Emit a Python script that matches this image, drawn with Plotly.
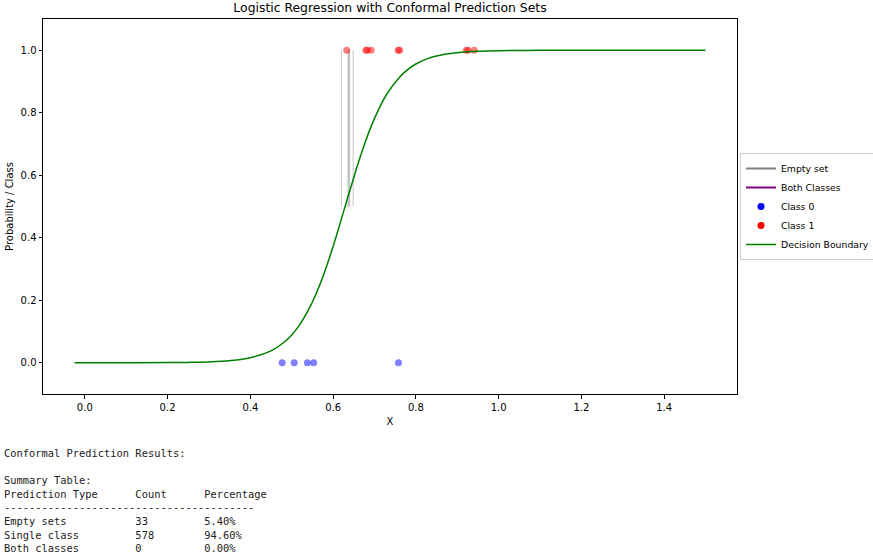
import plotly.graph_objects as go

# ---- data ----
curve_x = [-0.025, 0.1, 0.2, 0.25, 0.30, 0.35, 0.40, 0.45, 0.48, 0.50, 0.52, 0.545, 0.56,
           0.575, 0.59, 0.60, 0.61, 0.62, 0.629, 0.64, 0.65, 0.66, 0.672, 0.69, 0.71,
           0.73, 0.76, 0.78, 0.80, 0.83, 0.87, 0.91, 0.95, 1.0, 1.1, 1.2, 1.35, 1.5]
curve_p = [0.0, 0.0001, 0.0004, 0.0011, 0.0027, 0.0066, 0.016, 0.038, 0.064, 0.089, 0.123,
           0.181, 0.224, 0.274, 0.331, 0.372, 0.415, 0.46, 0.5, 0.549, 0.593, 0.636, 0.684,
           0.75, 0.811, 0.86, 0.913, 0.938, 0.956, 0.974, 0.987, 0.994, 0.997, 0.9987,
           0.9998, 1.0, 1.0, 1.0]

class0_x = [0.477, 0.506, 0.538, 0.553, 0.758]
class0_y = [0, 0, 0, 0, 0]
class1_x = [0.633, 0.679, 0.683, 0.692, 0.757, 0.761, 0.922, 0.926, 0.941]
class1_y = [1, 1, 1, 1, 1, 1, 1, 1, 1]

empty_x = [0.620, 0.636, 0.638, 0.640, 0.6485]
empty_y0 = 0.5
empty_y1 = 1.0

x_ticks = [0.0, 0.2, 0.4, 0.6, 0.8, 1.0, 1.2, 1.4]
y_ticks = [0.0, 0.2, 0.4, 0.6, 0.8, 1.0]

report_lines = [
    "Conformal Prediction Results:",
    "",
    "Summary Table:",
    "Prediction Type      Count      Percentage",
    "----------------------------------------",
    "Empty sets           33         5.40%",
    "Single class         578        94.60%",
    "Both classes         0          0.00%",
]

# ---- figure ----
W, H = 873, 559
L, R, T, B = 43, 737, 19, 394

fig = go.Figure()

vx, vy = [], []
for x in empty_x:
    vx += [x, x, None]
    vy += [empty_y0, empty_y1, None]
fig.add_trace(go.Scatter(x=vx, y=vy, mode="lines",
                         line=dict(color="rgba(128,128,128,0.45)", width=1.0),
                         showlegend=False, hoverinfo="skip"))

fig.add_trace(go.Scatter(x=class0_x, y=class0_y, mode="markers",
                         marker=dict(color="rgba(0,0,255,0.5)", size=7, line=dict(width=0)),
                         showlegend=False))
fig.add_trace(go.Scatter(x=class1_x, y=class1_y, mode="markers",
                         marker=dict(color="rgba(255,0,0,0.5)", size=7, line=dict(width=0)),
                         showlegend=False))
fig.add_trace(go.Scatter(x=curve_x, y=curve_p, mode="lines",
                         line=dict(color="green", width=1.5, shape="spline", smoothing=1.0),
                         showlegend=False))

# legend entries
fig.add_trace(go.Scatter(x=[None], y=[None], mode="lines", name="Empty set",
                         line=dict(color="gray", width=2)))
fig.add_trace(go.Scatter(x=[None], y=[None], mode="lines", name="Both Classes",
                         line=dict(color="purple", width=2)))
fig.add_trace(go.Scatter(x=[None], y=[None], mode="markers", name="Class 0",
                         marker=dict(color="blue", size=7)))
fig.add_trace(go.Scatter(x=[None], y=[None], mode="markers", name="Class 1",
                         marker=dict(color="red", size=7)))
fig.add_trace(go.Scatter(x=[None], y=[None], mode="lines", name="Decision Boundary",
                         line=dict(color="green", width=1.5)))

font = "DejaVu Sans, sans-serif"
axis_common = dict(showline=True, linecolor="black", linewidth=1, mirror=True,
                   ticks="outside", ticklen=3.5, tickcolor="black", showgrid=False,
                   zeroline=False, tickfont=dict(size=10, color="black", family=font),
                   tickformat=".1f", automargin=False)

fig.update_layout(
    width=W, height=H,
    margin=dict(l=L, r=W - R, t=T, b=H - B, pad=0, autoexpand=False),
    paper_bgcolor="white", plot_bgcolor="white",
    font=dict(family=font, color="black"),
    title=dict(text="Logistic Regression with Conformal Prediction Sets",
               x=(L + R) / 2 / W, xanchor="center", xref="container",
               y=1 - 8 / H, yanchor="middle", yref="container",
               font=dict(size=12.4, color="black", family=font)),
    xaxis=dict(range=[-0.101, 1.576], tickvals=x_ticks,
               title=dict(text="X", font=dict(size=10, family=font), standoff=6),
               **axis_common),
    yaxis=dict(range=[-0.1, 1.1], tickvals=y_ticks,
               title=dict(text="Probability / Class", font=dict(size=10, family=font), standoff=5),
               **axis_common),
    legend=dict(x=(740 - L) / (R - L), xanchor="left", y=(B - 206.5) / (B - T), yanchor="middle",
                bgcolor="white", bordercolor="#cccccc", borderwidth=1,
                font=dict(size=9.3, family=font), tracegroupgap=0, itemwidth=30),
    showlegend=True,
)

line_h = 13.6
for i, txt in enumerate(report_lines):
    if not txt:
        continue
    py = 453 + i * line_h
    fig.add_annotation(text=txt.replace(" ", "\u00a0"), xref="paper", yref="paper",
                       x=(2 - L) / (R - L), y=(B - py) / (B - T),
                       xanchor="left", yanchor="middle", showarrow=False,
                       font=dict(family="DejaVu Sans Mono, monospace", size=10.4, color="#222222"))

fig.write_html("out.html", config={"displayModeBar": False},
               post_script="document.body.style.margin='0';")
